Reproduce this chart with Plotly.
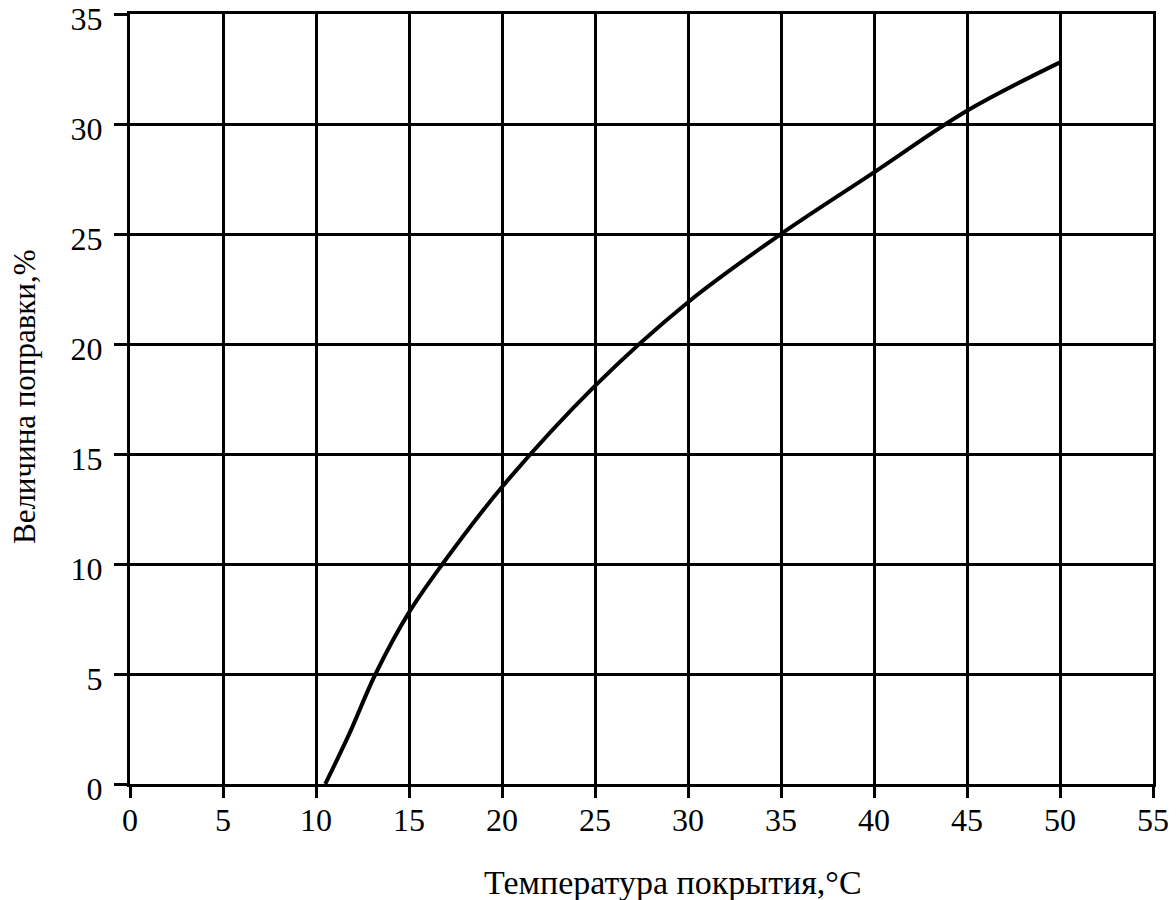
import plotly.graph_objects as go

temp_c = [10.5, 11.8, 13.2, 15, 16.8, 20, 25, 30, 35, 40, 45, 50]
correction_pct = [0, 2.3, 5, 7.8, 10, 13.5, 18.1, 21.9, 25.0, 27.8, 30.6, 32.8]

x_ticks = list(range(0, 56, 5))
y_ticks = list(range(0, 36, 5))

x_title = "Температура покрытия,°C"
y_title = "Величина поправки,%"

FONT = "Liberation Serif"

fig = go.Figure()
fig.add_trace(go.Scatter(
    x=temp_c, y=correction_pct, mode="lines",
    line=dict(color="black", width=4, shape="spline", smoothing=1.0),
    showlegend=False, hoverinfo="skip",
))

fig.update_layout(
    width=1176, height=900,
    margin=dict(l=122, r=31, t=6, b=124, autoexpand=False),
    paper_bgcolor="white", plot_bgcolor="white",
    font=dict(family=FONT, color="black", size=32),
    annotations=[
        dict(text=x_title, xref="paper", yref="paper", x=0.531, y=-0.128,
             xanchor="center", yanchor="middle", showarrow=False,
             font=dict(family=FONT, size=34, color="black")),
        dict(text=y_title, xref="paper", yref="paper", x=-0.1026, y=0.5026,
             xanchor="center", yanchor="middle", showarrow=False, textangle=-90,
             font=dict(family=FONT, size=31, color="black")),
    ],
)
fig.update_xaxes(
    range=[0, 55], tickvals=x_ticks, ticktext=[str(v) for v in x_ticks],
    showgrid=True, gridcolor="black", gridwidth=3,
    showline=True, linecolor="black", linewidth=3, mirror=True,
    ticks="outside", ticklen=11, tickwidth=3, tickcolor="black",
    zeroline=False, automargin=False, ticklabeloverflow="allow",
    ticklabelstandoff=-5,
    tickfont=dict(family=FONT, size=32),
)
fig.update_yaxes(
    range=[0, 35], tickvals=y_ticks, ticktext=[str(v) for v in y_ticks],
    showgrid=True, gridcolor="black", gridwidth=3,
    showline=True, linecolor="black", linewidth=3, mirror=True,
    ticks="outside", ticklen=13, tickwidth=3, tickcolor="black",
    zeroline=False, automargin=False, ticklabeloverflow="allow",
    ticklabelstandoff=5, ticklabelshift=5,
    tickfont=dict(family=FONT, size=32),
)

fig.write_html("out.html")
